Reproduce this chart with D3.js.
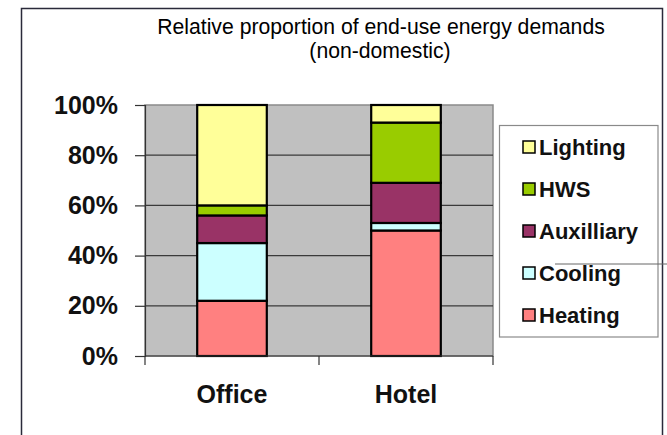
<!DOCTYPE html>
<html>
<head>
<meta charset="utf-8">
<script src="https://cdn.jsdelivr.net/npm/d3@7"></script>
<style>
  html, body { margin: 0; padding: 0; background: #fff; }
  svg { display: block; font-family: Arial, "Liberation Sans", sans-serif; }
</style>
</head>
<body>
<svg id="chart" width="667" height="435"></svg>
<script>
// Building types on the x axis
const categories = ["Office", "Hotel"];
// End uses, bottom of the stack first
const endUses = ["Heating", "Cooling", "Auxilliary", "HWS", "Lighting"];
// Share of demand (%) for each end use, in category order
const heating    = [22, 50];
const cooling    = [23, 3];
const auxilliary = [11, 16];
const hws        = [4, 24];
const lighting   = [40, 7];
const yTicks = [0, 20, 40, 60, 80, 100];
const colors = ["#FF8080", "#CCFFFF", "#993366", "#99CC00", "#FFFF99"];

const seriesValues = [heating, cooling, auxilliary, hws, lighting];
const rows = categories.map((c, i) => {
  const r = { category: c };
  endUses.forEach((u, j) => { r[u] = seriesValues[j][i]; });
  return r;
});

const svg = d3.select("#chart");

// outer frame
svg.append("rect")
  .attr("x", 21.5).attr("y", 8.5)
  .attr("width", 641).attr("height", 440)
  .attr("fill", "#fff").attr("stroke", "#2a2a3a").attr("stroke-width", 1.5);

// title, two lines
const titleLines = ["Relative proportion of end-use energy demands", "(non-domestic)"];
svg.append("g").selectAll("text").data(titleLines).join("text")
  .attr("text-anchor", "middle").attr("font-size", 21.2).attr("fill", "#000")
  .attr("x", (d, i) => i === 0 ? 381 : 380)
  .attr("y", (d, i) => i === 0 ? 34 : 57.8)
  .text(d => d);

const plot = { left: 145, right: 493, top: 105, bottom: 356 };

const x = d3.scaleBand().domain(categories)
  .range([plot.left, plot.right]).paddingInner(0.6).paddingOuter(0.3);
const y = d3.scaleLinear().domain([0, 100]).range([plot.bottom, plot.top]);

// plot background
svg.append("rect")
  .attr("x", plot.left).attr("y", plot.top)
  .attr("width", plot.right - plot.left).attr("height", plot.bottom - plot.top)
  .attr("fill", "#C0C0C0").attr("stroke", "#8a8a8a").attr("stroke-width", 1.5);

// gridlines
svg.append("g").selectAll("line")
  .data(yTicks.filter(t => t > 0 && t < 100))
  .join("line")
  .attr("x1", plot.left).attr("x2", plot.right)
  .attr("y1", d => y(d)).attr("y2", d => y(d))
  .attr("stroke", "#3a3a3a").attr("stroke-width", 1.2);

// stacked bars
const stacked = d3.stack().keys(endUses)(rows);
const color = d3.scaleOrdinal().domain(endUses).range(colors);
svg.append("g").selectAll("g")
  .data(stacked)
  .join("g")
  .attr("fill", d => color(d.key))
  .selectAll("rect")
  .data(d => d)
  .join("rect")
  .attr("x", d => x(d.data.category))
  .attr("width", x.bandwidth())
  .attr("y", d => y(d[1]))
  .attr("height", d => y(d[0]) - y(d[1]))
  .attr("stroke", "#000").attr("stroke-width", 2.2);

// y axis
const yAxis = d3.axisLeft(y).tickValues(yTicks)
  .tickFormat(d => d + "%").tickSize(10).tickPadding(17);
const gy = svg.append("g").attr("transform", `translate(${plot.left},0)`).call(yAxis);
gy.select(".domain").attr("stroke", "#333").attr("stroke-width", 1.2);
gy.selectAll(".tick line").attr("stroke", "#333").attr("stroke-width", 1.2);
gy.selectAll(".tick text")
  .attr("font-size", 25).attr("font-weight", "bold").attr("fill", "#111")
  .attr("font-family", "Arial, 'Liberation Sans', sans-serif");

// x axis: boundary ticks between categories
const xEdges = [plot.left, (plot.left + plot.right) / 2, plot.right];
const gx = svg.append("g");
gx.append("line")
  .attr("x1", plot.left).attr("x2", plot.right)
  .attr("y1", plot.bottom).attr("y2", plot.bottom)
  .attr("stroke", "#333").attr("stroke-width", 1.2);
gx.selectAll("line.tk").data(xEdges).join("line").attr("class", "tk")
  .attr("x1", d => d).attr("x2", d => d)
  .attr("y1", plot.bottom).attr("y2", plot.bottom + 9)
  .attr("stroke", "#333").attr("stroke-width", 1.2);
gx.selectAll("text").data(categories).join("text")
  .attr("x", d => x(d) + x.bandwidth() / 2)
  .attr("y", 403)
  .attr("text-anchor", "middle")
  .attr("font-size", 25).attr("font-weight", "bold").attr("fill", "#111")
  .text(d => d);

// legend
const legend = svg.append("g");
legend.append("rect")
  .attr("x", 499.5).attr("y", 125.5).attr("width", 158.5).attr("height", 211.5)
  .attr("fill", "#fff").attr("stroke", "#8a8a8a").attr("stroke-width", 1.2);

// connector line running out to the right edge
svg.append("line")
  .attr("x1", 555).attr("x2", 667).attr("y1", 264).attr("y2", 264)
  .attr("stroke", "#666").attr("stroke-width", 1);

const legendOrder = endUses.slice().reverse();
const legendY = d3.scalePoint().domain(legendOrder).range([147, 315]);
const items = legend.selectAll("g.item").data(legendOrder).join("g")
  .attr("class", "item")
  .attr("transform", d => `translate(0,${legendY(d)})`);
items.append("rect")
  .attr("x", 523).attr("y", -6).attr("width", 12).attr("height", 12)
  .attr("fill", d => color(d)).attr("stroke", "#000").attr("stroke-width", 1.5);
items.append("text")
  .attr("x", 539).attr("y", 8)
  .attr("font-size", 22).attr("font-weight", "bold").attr("fill", "#111")
  .text(d => d);
</script>
</body>
</html>
